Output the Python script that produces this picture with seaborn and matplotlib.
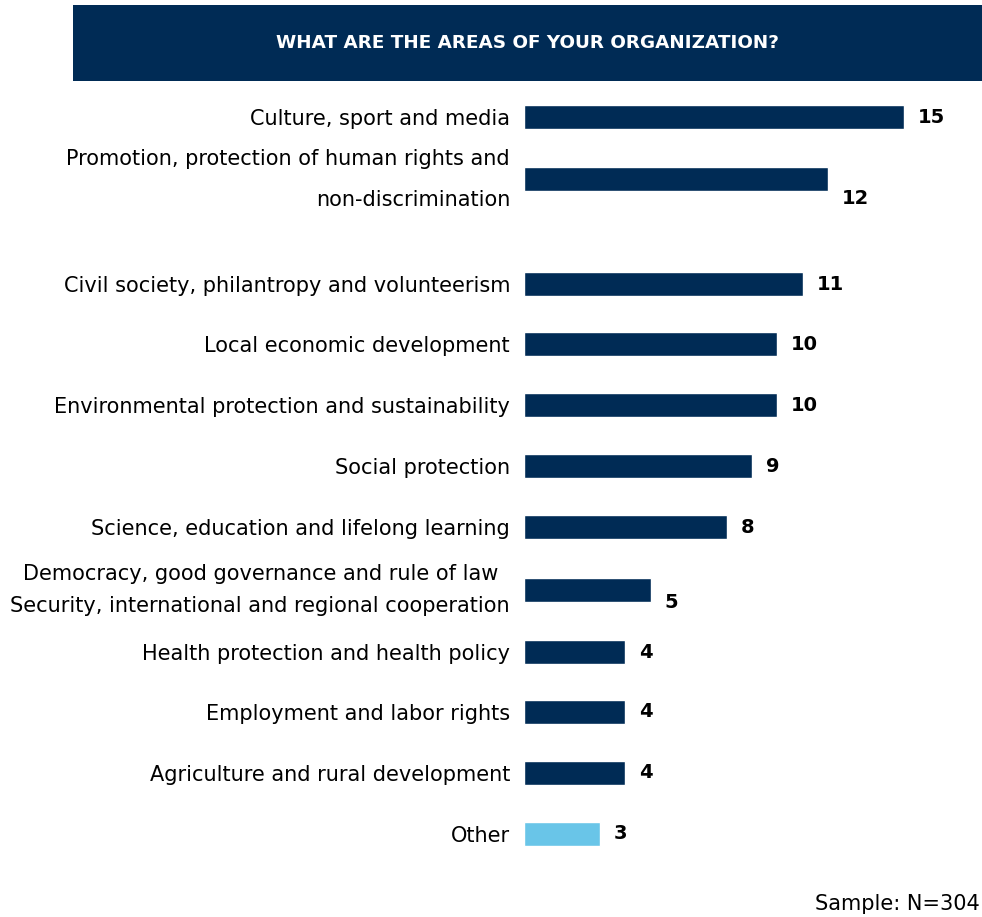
import matplotlib
matplotlib.use("Agg")
import matplotlib.pyplot as plt
from matplotlib.patches import Rectangle
import seaborn as sns
import pandas as pd

# --- data -------------------------------------------------------------
areas = [
    "Culture, sport and media",
    "Promotion, protection of human rights and\nnon-discrimination",
    "Civil society, philantropy and volunteerism",
    "Local economic development",
    "Environmental protection and sustainability",
    "Social protection",
    "Science, education and lifelong learning",
    "Democracy, good governance and rule of law\nSecurity, international and regional cooperation",
    "Health protection and health policy",
    "Employment and labor rights",
    "Agriculture and rural development",
    "Other",
]
counts = [15, 12, 11, 10, 10, 9, 8, 5, 4, 4, 4, 3]
title = "WHAT ARE THE AREAS OF YOUR ORGANIZATION?"
sample_note = "Sample: N=304"

# --- layout -----------------------------------------------------------
row_pos = [0, 1.02, 2.74, 3.72, 4.72, 5.72, 6.72, 7.75, 8.77, 9.75, 10.75, 11.75]
label_dy = [0, -14, 0, 0, 0, 0, 0, -9, 0, 0, 0, 0]   # value label shift, points
navy = "#002B55"
light_blue = "#69C5E8"
bar_colors = [navy] * (len(areas) - 1) + [light_blue]

W, H, DPI = 982, 917, 100

sns.set_theme(style="white")
plt.rcParams["font.family"] = ["DejaVu Sans"]

fig = plt.figure(figsize=(W / DPI, H / DPI), dpi=DPI)

# header band
fig.patches.append(Rectangle((73 / W, 1 - 81 / H), 1 - 73 / W, 76 / H,
                             transform=fig.transFigure, facecolor=navy,
                             edgecolor="none", zorder=0))
fig.text(528 / W, 1 - 43 / H, title, color="white", fontsize=13.2,
         fontweight="bold", ha="center", va="center")

ax = fig.add_axes([524 / W, 1 - 870 / H, 1 - 524 / W, 785 / H])

df = pd.DataFrame({"area": areas, "count": counts, "pos": row_pos})
sns.barplot(data=df, x="count", y="pos", hue="area", palette=bar_colors,
            orient="y", native_scale=True, dodge=False, legend=False,
            width=0.4, saturation=1, ax=ax)

ax.set_xlim(0, 458 / 25.33)
ax.set_ylim(12.34, -0.525)
ax.set_xlabel("")
ax.set_ylabel("")
ax.set_xticks([])
ax.set_yticks(row_pos)
ax.set_yticklabels(areas, fontsize=15, color="black")
ax.tick_params(axis="y", length=0, pad=10)
for i, t in enumerate(ax.get_yticklabels()):
    if i == 1:
        t.set_linespacing(2.3)
        t.set_multialignment("right")
        t.set_verticalalignment("center")
    elif i == 7:
        t.set_linespacing(1.75)
        t.set_multialignment("center")
        t.set_verticalalignment("center")
for s in ax.spines.values():
    s.set_visible(False)

for v, p, dy in zip(counts, row_pos, label_dy):
    ax.annotate(str(v), xy=(v, p), xytext=(10, dy), textcoords="offset points",
                ha="left", va="center", fontsize=14, fontweight="bold",
                color="black")

fig.text(980 / W, 1 - 904 / H, sample_note, fontsize=15, ha="right",
         va="center", color="black")

fig.savefig("out.png", dpi=DPI)
